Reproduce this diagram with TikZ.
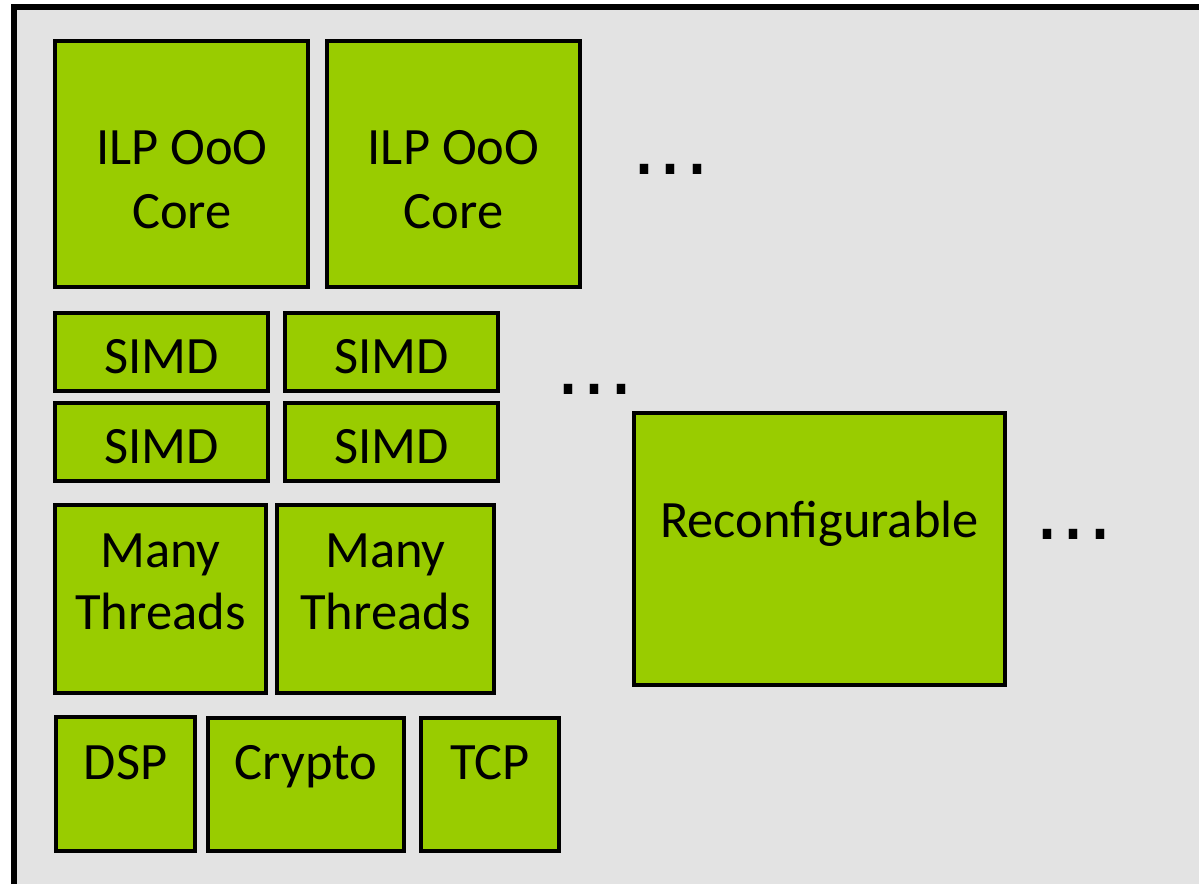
\documentclass[tikz,border=0pt]{standalone}
\usepackage{fontspec}
\setmainfont{Carlito}
\newfontfamily\dotfont{DejaVu Sans}
\definecolor{bggray}{HTML}{E3E3E3}
\definecolor{chipgreen}{HTML}{99CC00}
\tikzset{
  unit/.style={draw=black, fill=chipgreen, line width=4pt},
  lbl/.style={anchor=base, inner sep=0pt, font=\fontsize{52.5}{63}\selectfont},
  moredots/.style={anchor=base, inner sep=0pt, font=\dotfont\fontsize{82}{90}\selectfont},
}
\begin{document}
\begin{tikzpicture}[x=1pt,y=-1pt]
\useasboundingbox (0,0) rectangle (1199,884);
% chip background
\fill[bggray] (14,7) rectangle (1199,884);
\draw[line width=6pt] (14,884) -- (14,7) -- (1199,7);
% ILP cores
\draw[unit] (55,41) rectangle (308,287);
\draw[unit] (327,41) rectangle (580,287);
\node[lbl] (ilp1a) at (182,164) {ILP OoO};
\node[lbl] (ilp1b) at (182,228) {Core};
\node[lbl] (ilp2a) at (453.5,164) {ILP OoO};
\node[lbl] (ilp2b) at (453.5,228) {Core};
% SIMD
\draw[unit] (55,313) rectangle (268,391);
\draw[unit] (285,313) rectangle (498,391);
\draw[unit] (55,403) rectangle (268,481);
\draw[unit] (285,403) rectangle (498,481);
\node[lbl] (simd1) at (161.5,373) {SIMD};
\node[lbl] (simd2) at (391.5,373) {SIMD};
\node[lbl] (simd3) at (161.5,463) {SIMD};
\node[lbl] (simd4) at (391.5,463) {SIMD};
% Many threads
\draw[unit] (55,505) rectangle (266,693);
\draw[unit] (277,505) rectangle (494,693);
\node[lbl] (mt1a) at (160.5,567) {Many};
\node[lbl] (mt1b) at (160.5,629) {Threads};
\node[lbl] (mt2a) at (385.5,567) {Many};
\node[lbl] (mt2b) at (385.5,629) {Threads};
% accelerators
\draw[unit] (56,717) rectangle (195,851);
\draw[unit] (208,718) rectangle (404,851);
\draw[unit] (421,718) rectangle (559,851);
\node[lbl] (dsp) at (125.5,779) {DSP};
\node[lbl] (crypto) at (306,779) {Crypto};
\node[lbl] (tcp) at (490,779) {TCP};
% reconfigurable
\draw[unit] (634,413) rectangle (1005,685);
\node[lbl] (reconf) at (819.5,537) {Reconfigurable};
% ellipses
\node[moredots] (dots1) at (671,174) {...};
\node[moredots] (dots2) at (595,394) {...};
\node[moredots] (dots3) at (1074,539) {...};
\end{tikzpicture}
\end{document}
